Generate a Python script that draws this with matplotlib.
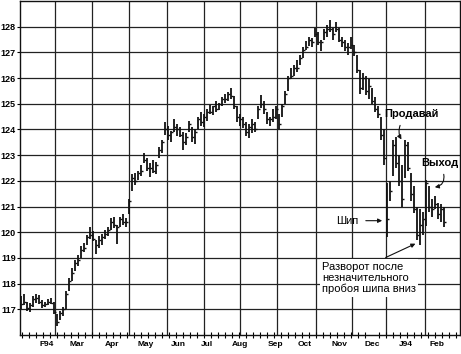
import numpy as np
import matplotlib
matplotlib.use("Agg")
import matplotlib.pyplot as plt

plt.rcParams['font.family'] = ['Liberation Sans', 'DejaVu Sans']

# daily bars (price)
highs = [117.5, 117.6, 117.3, 117.25, 117.5, 117.6, 117.55, 117.35, 117.3, 117.4,
         117.45, 117.3, 116.8, 116.95, 117.1, 117.7, 118.2, 118.6, 118.9, 119.1,
         119.45, 119.6, 119.9, 120.2, 120.05, 119.7, 119.85, 119.95, 120.1, 120.2,
         120.55, 120.6, 120.3, 120.6, 120.7, 120.55, 121.3, 122.25, 122.3, 122.4,
         122.6, 123.1, 122.9, 122.7, 122.8, 122.75, 123.3, 123.6, 124.3, 124.15,
         123.95, 124.4, 124.2, 124.1, 123.9, 123.85, 124.35, 124.1, 124.0, 124.5,
         124.7, 124.6, 124.8, 124.95, 124.9, 125.1, 125.05, 125.25, 125.4, 125.45,
         125.6, 125.3, 124.9, 124.6, 124.5, 124.3, 124.2, 124.4, 124.3, 124.9,
         125.35, 125.1, 124.7, 124.5, 124.8, 124.9, 124.6, 125.0, 125.5, 126.1,
         126.4, 126.5, 126.7, 126.9, 127.2, 127.45, 127.6, 127.55, 127.95, 127.8,
         127.5, 127.9, 128.05, 128.25, 127.95, 128.2, 127.95, 127.6, 127.5, 127.35,
         127.6, 127.3, 126.9, 126.3, 126.2, 126.1, 125.95, 125.6, 125.25, 124.9,
         124.5, 124.0, 121.9, 122.0, 123.6, 123.7, 123.0, 122.6, 123.6, 123.5,
         122.3, 121.8, 121.0, 120.9, 120.8, 122.05, 121.8, 121.3, 121.4, 121.15,
         121.1, 121.0]
lows = [117.0, 117.15, 116.95, 116.9, 117.1, 117.25, 117.2, 117.05, 117.1, 117.15,
        117.2, 116.8, 116.35, 116.6, 116.75, 117.0, 117.7, 118.1, 118.5, 118.7,
        119.0, 119.25, 119.5, 119.75, 119.65, 119.15, 119.4, 119.5, 119.75, 119.85,
        120.1, 120.15, 119.55, 120.2, 120.3, 120.2, 120.7, 121.6, 121.85, 122.05,
        122.2, 122.7, 122.4, 122.15, 122.3, 122.25, 122.9, 123.1, 123.8, 123.6,
        123.5, 123.9, 123.75, 123.7, 123.2, 123.4, 123.9, 123.5, 123.45, 124.0,
        124.15, 124.1, 124.35, 124.6, 124.55, 124.7, 124.75, 124.9, 125.05, 125.1,
        125.2, 124.8, 124.3, 124.15, 124.05, 123.75, 123.65, 123.85, 123.9, 124.4,
        124.85, 124.6, 124.2, 124.15, 124.3, 124.4, 124.0, 124.5, 125.0, 125.5,
        125.95, 126.1, 126.25, 126.5, 126.8, 127.1, 127.25, 127.2, 127.6, 127.3,
        127.05, 127.5, 127.6, 127.8, 127.5, 127.8, 127.4, 127.2, 127.05, 126.9,
        127.15, 126.85, 126.2, 125.4, 125.55, 125.35, 125.2, 125.0, 124.7, 124.45,
        123.6, 122.6, 119.8, 121.2, 122.2, 122.5, 121.8, 121.0, 122.1, 122.4,
        121.2, 120.75, 119.7, 119.5, 119.9, 120.25, 120.8, 120.6, 120.9, 120.5,
        120.4, 120.2]
closes = [117.2, 117.3, 117.05, 117.15, 117.4, 117.45, 117.3, 117.15, 117.2, 117.3,
          117.25, 116.9, 116.5, 116.85, 117.0, 117.6, 118.1, 118.4, 118.8, 118.9,
          119.3, 119.4, 119.8, 119.9, 119.75, 119.5, 119.7, 119.8, 119.95, 120.1,
          120.4, 120.3, 120.2, 120.5, 120.4, 120.4, 121.2, 122.1, 122.0, 122.3,
          122.4, 122.8, 122.5, 122.5, 122.4, 122.6, 123.2, 123.5, 124.0, 123.8,
          123.9, 124.1, 124.0, 123.8, 123.5, 123.7, 124.2, 123.7, 123.9, 124.4,
          124.3, 124.5, 124.7, 124.7, 124.9, 124.8, 125.0, 125.2, 125.2, 125.4,
          125.3, 124.9, 124.5, 124.4, 124.2, 123.9, 124.1, 124.2, 124.0, 124.8,
          125.0, 124.8, 124.4, 124.4, 124.5, 124.8, 124.2, 124.9, 125.4, 126.0,
          126.1, 126.4, 126.4, 126.8, 127.1, 127.2, 127.5, 127.4, 127.7, 127.4,
          127.4, 127.8, 127.9, 127.9, 127.7, 127.9, 127.5, 127.4, 127.2, 127.2,
          127.3, 127.0, 126.3, 125.6, 126.0, 125.5, 125.7, 125.1, 124.8, 124.6,
          123.8, 122.9, 120.5, 121.6, 123.4, 122.7, 122.0, 121.3, 123.4, 122.5,
          121.5, 120.9, 119.9, 120.3, 120.5, 121.9, 121.0, 120.9, 121.1, 120.7,
          120.9, 120.4]

month_labels = ["F94", "Mar", "Apr", "May", "Jun", "Jul", "Aug", "Sep", "Oct",
                "Nov", "Dec", "J94", "Feb"]
price_ticks = [117, 118, 119, 120, 121, 122, 123, 124, 125, 126, 127, 128]

# layout (bar-index units)
label_pos = [8.7, 18.7, 30.3, 41.7, 52.3, 62.0, 73.0, 84.7, 94.7, 106.3, 117.0, 128.3, 138.7]
vgrid_pos = [11.3, 23.7, 36.0, 48.7, 61.0, 73.0, 85.3, 98.3, 110.3, 121.7, 134.7]

fig = plt.figure(figsize=(4.61, 3.54), dpi=100)
ax = fig.add_axes([0.0434, 0.0537, 0.9545, 0.9433])

x = np.arange(len(highs))
ink = "#111111"
ax.vlines(x, lows, highs, color=ink, lw=1.3, zorder=3)
ax.hlines(closes, x, x + 0.6, color=ink, lw=1.0, zorder=3)

for v in vgrid_pos:
    ax.axvline(v, color="#222222", lw=0.9, zorder=1)
for p in price_ticks:
    ax.axhline(p, color="#222222", lw=0.9, zorder=1)

ax.set_xlim(-0.33, 146.33)
ax.set_ylim(116, 129)
ax.set_yticks(price_ticks)
ax.set_yticklabels([str(p) for p in price_ticks], fontsize=6.5, fontweight="bold")
ax.set_xticks(label_pos)
ax.set_xticklabels(month_labels, fontsize=6, fontweight="bold")
ax.set_xticks(np.arange(0.5, 146, 2.33), minor=True)
ax.tick_params(axis="x", which="major", length=0, pad=4)
ax.tick_params(axis="x", which="minor", length=4, direction="inout", width=0.8)
ax.tick_params(axis="y", length=2, width=0.8, pad=1)
for s in ax.spines.values():
    s.set_linewidth(1.0)
    s.set_color(ink)

arrow = dict(arrowstyle="-|>", color=ink, lw=0.8, mutation_scale=6)

ax.text(130, 124.61, "Продавай", fontsize=8, fontweight="bold", ha="center",
        va="center", zorder=5)
ax.annotate("", xy=(127.3, 123.52), xytext=(126.7, 124.26),
            arrowprops=dict(arrow, connectionstyle="arc3,rad=0.3"))

ax.text(139.7, 122.71, "Выход", fontsize=8, fontweight="bold", ha="center",
        va="center", zorder=5)
ax.annotate("", xy=(137.0, 121.74), xytext=(140.7, 122.36),
            arrowprops=dict(arrow, connectionstyle="arc3,rad=-0.6"))

ax.text(108.7, 120.45, "Шип", fontsize=8, ha="center", va="center", zorder=5)
ax.annotate("", xy=(121.3, 120.45), xytext=(114.0, 120.45), arrowprops=arrow)

ax.text(100.3, 118.86, "Разворот после\nнезначительного\nпробоя шипа вниз",
        fontsize=8, ha="left", va="top", linespacing=1.15, zorder=5,
        bbox=dict(facecolor="white", edgecolor="none", pad=1.5))
ax.annotate("", xy=(132.3, 119.6), xytext=(120.7, 118.97), arrowprops=arrow)

fig.savefig("out.png", dpi=100)
